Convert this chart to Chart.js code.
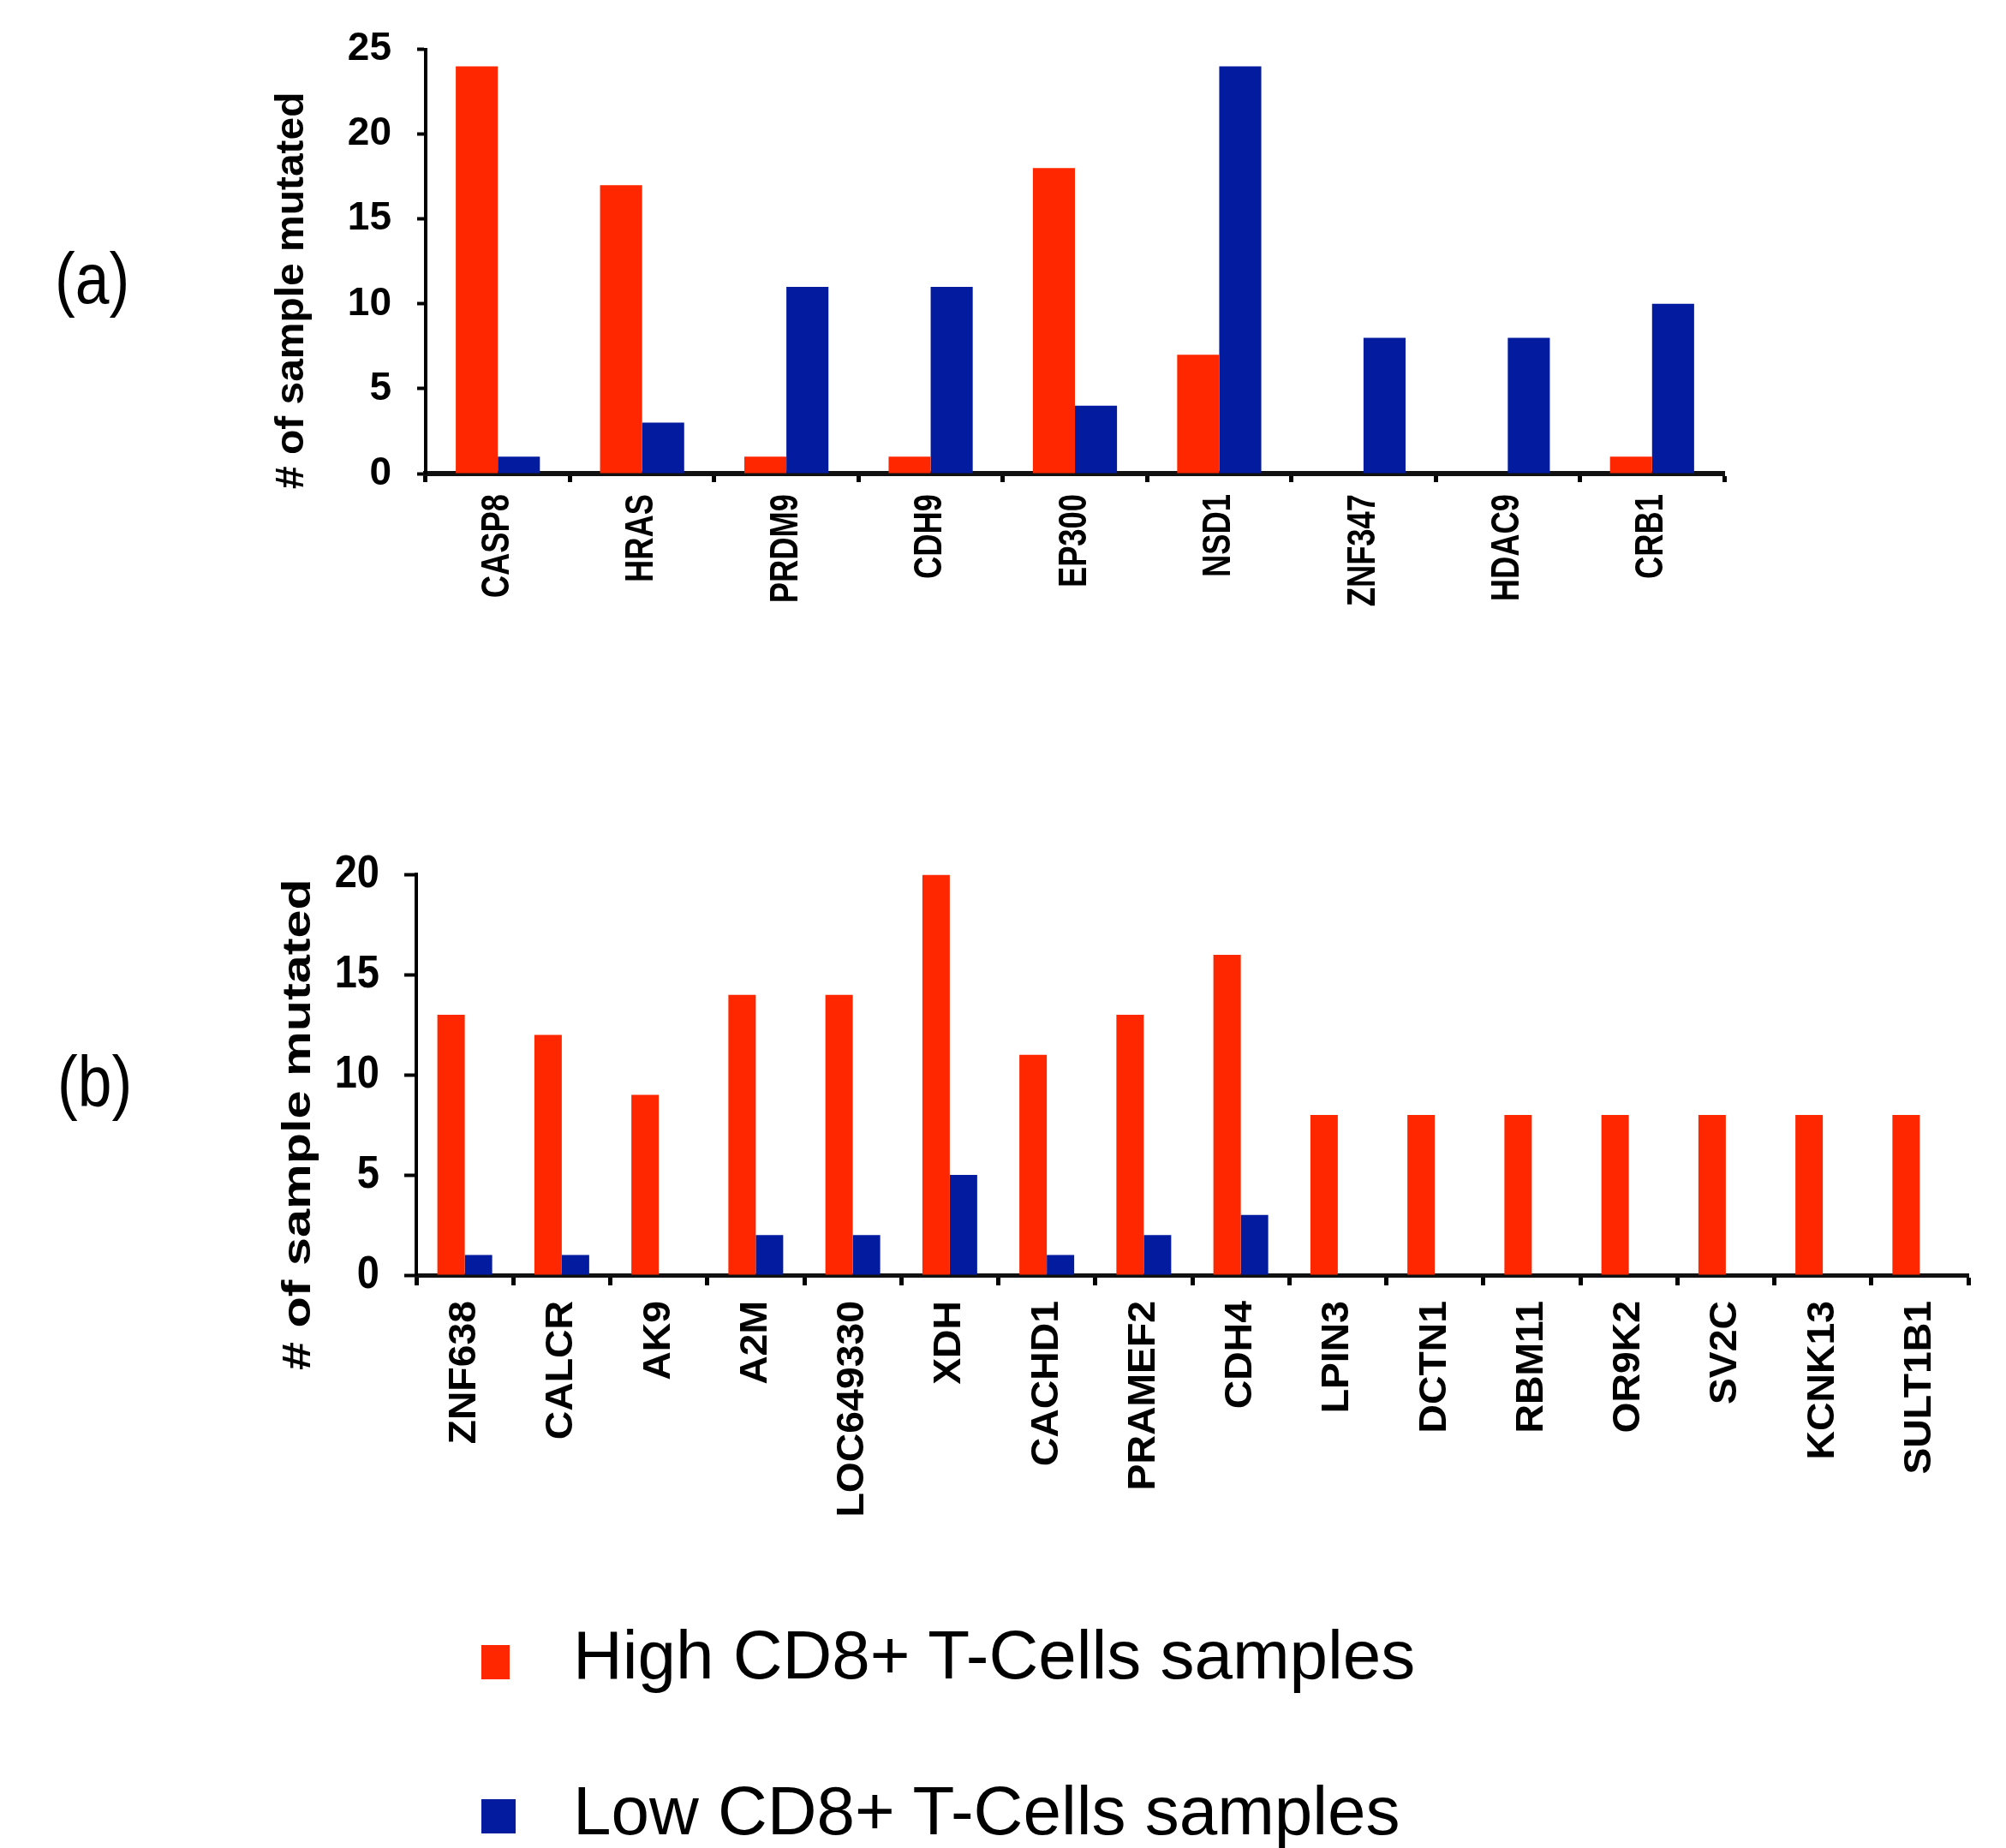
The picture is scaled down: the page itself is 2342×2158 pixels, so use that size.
<!DOCTYPE html>
<html>
<head>
<meta charset="utf-8">
<script src="https://cdn.jsdelivr.net/npm/chart.js@4.4.1/dist/chart.umd.min.js"></script>
<style>
  html, body { margin: 0; padding: 0; background: #fff; }
  body { width: 2342px; height: 2158px; position: relative; overflow: hidden; font-family: 'Liberation Sans', Arial, sans-serif; color: #000; }
  .panel { position: absolute; left: 0; width: 2342px; }
  .tag { position: absolute; font-size: 84px; line-height: 1; transform: scaleX(0.85); transform-origin: 0 0; }
  .key { position: absolute; }
  .keytext { position: absolute; font-size: 80px; line-height: 1; white-space: nowrap; }
</style>
</head>
<body>
<div class="panel" style="top:0;height:800px"><canvas id="chartA"></canvas></div>
<div class="panel" style="top:960px;height:860px"><canvas id="chartB"></canvas></div>
<div class="tag" style="left:64px;top:283px">(a)</div>
<div class="tag" style="left:67px;top:1221px">(b)</div>
<div id="legend"></div>

<script>
const seriesNames = ['High CD8+ T-Cells samples', 'Low CD8+ T-Cells samples'];
const seriesColors = ['#ff2700', '#031b9f'];

// panel (a)
const genesA = ['CASP8', 'HRAS', 'PRDM9', 'CDH9', 'EP300', 'NSD1', 'ZNF347', 'HDAC9', 'CRB1'];
const highA = [24, 17, 1, 1, 18, 7, 0, 0, 1];
const lowA = [1, 3, 11, 11, 4, 24, 8, 8, 10];

// panel (b)
const genesB = ['ZNF638', 'CALCR', 'AK9', 'A2M', 'LOC649330', 'XDH', 'CACHD1', 'PRAMEF2',
  'CDH4', 'LPIN3', 'DCTN1', 'RBM11', 'OR9K2', 'SV2C', 'KCNK13', 'SULT1B1'];
const highB = [13, 12, 9, 14, 14, 20, 11, 13, 16, 8, 8, 8, 8, 8, 8, 8];
const lowB = [1, 1, 0, 2, 2, 5, 1, 2, 3, 0, 0, 0, 0, 0, 0, 0];

const yTitle = '# of sample mutated';
const sans = "'Liberation Sans', Arial, sans-serif";

// the original uses squeezed / stretched type, so scale the text along its run
const stretchText = {
  id: 'stretchText',
  afterLayout(chart, args, opts) {
    const x = chart.scales.x, y = chart.scales.y;
    if (y.__wrapped) return;
    const drawTitle = y.drawTitle, drawY = y.drawLabels, drawX = x.drawLabels;

    y.drawTitle = function () {
      const ctx = this.ctx, cy = (this.top + this.bottom) / 2;
      ctx.save();
      ctx.translate(0, cy + opts.titleDy);
      ctx.scale(1, opts.titleK);
      ctx.translate(0, -cy);
      drawTitle.call(this);
      ctx.restore();
    };
    y.drawLabels = function (area) {
      const o = this.options;
      const ax = this.right - o.grid.tickLength - o.ticks.padding;
      const ctx = this.ctx;
      ctx.save();
      ctx.translate(ax, 0);
      ctx.scale(opts.yTickK, 1);
      ctx.translate(-ax, 0);
      drawY.call(this, area);
      ctx.restore();
    };
    x.drawLabels = function (area) {
      const o = this.options;
      const ay = this.top + o.grid.tickLength + o.ticks.padding;
      const ctx = this.ctx;
      ctx.save();
      ctx.translate(0, ay);
      ctx.scale(1, opts.xTickK);
      ctx.translate(0, -ay);
      drawX.call(this, area);
      ctx.restore();
    };
    y.__wrapped = true;
  }
};

function makeChart(id, labels, high, low, p) {
  return new Chart(document.getElementById(id), {
    type: 'bar',
    data: {
      labels: labels,
      datasets: [
        { label: seriesNames[0], data: high, backgroundColor: seriesColors[0] },
        { label: seriesNames[1], data: low, backgroundColor: seriesColors[1] }
      ]
    },
    options: {
      responsive: true,
      maintainAspectRatio: false,
      devicePixelRatio: 1,
      animation: false,
      categoryPercentage: p.catPct,
      barPercentage: 1.0,
      layout: { padding: { left: 300, top: p.top, right: p.right, bottom: 0 } },
      plugins: {
        legend: { display: false },
        tooltip: { enabled: false },
        stretchText: { titleDy: p.titleDy, titleK: p.titleK, yTickK: p.yTickK, xTickK: p.xTickK }
      },
      scales: {
        x: {
          afterFit: (s) => { s.height = p.xHeight; },
          border: { display: true, color: '#111', width: p.xBorder },
          grid: { offset: true, drawOnChartArea: false, drawTicks: true,
                  tickLength: p.xTick, tickWidth: 5, tickColor: '#000' },
          ticks: { autoSkip: false, maxRotation: 90, minRotation: 90, padding: p.xPad,
                   color: '#000', font: { family: sans, size: p.xSize, weight: 'bold' } }
        },
        y: {
          min: 0,
          max: p.yMax,
          afterFit: (s) => { s.width = p.yWidth; },
          border: { display: true, color: '#000', width: 4 },
          grid: { drawOnChartArea: false, drawTicks: true, tickLength: p.yTick,
                  tickWidth: 4, tickColor: '#000' },
          ticks: { stepSize: 5, padding: p.yPad, color: '#000',
                   font: { family: sans, size: p.ySize, weight: 'bold' } },
          title: { display: true, text: yTitle, color: '#000',
                   font: { family: sans, size: p.titleSize, weight: 'bold', lineHeight: 1 },
                   padding: { top: p.titlePad, bottom: 0 } }
        }
      }
    },
    plugins: [stretchText]
  });
}

makeChart('chartA', genesA, highA, lowA, {
  catPct: 0.583, top: 52, right: 329, xHeight: 247, xBorder: 6, xTick: 10, xPad: 14,
  xSize: 46, xTickK: 0.79,
  yMax: 25, yWidth: 197, yTick: 10, yPad: 30, ySize: 46, yTickK: 1,
  titleSize: 47, titlePad: 18, titleDy: 34, titleK: 1.02
});

makeChart('chartB', genesB, highB, lowB, {
  catPct: 0.565, top: 50, right: 44, xHeight: 331, xBorder: 5, xTick: 12, xPad: 18,
  xSize: 45, xTickK: 1.03,
  yMax: 20, yWidth: 186, yTick: 14, yPad: 29, ySize: 54, yTickK: 0.87,
  titleSize: 46, titlePad: 26, titleDy: 58, titleK: 1.29
});

// legend built from the series names and colours
const legendBoxes = [
  { left: 562, top: 1921, w: 33, h: 40, textTop: 1893 },
  { left: 562, top: 2101, w: 40, h: 40, textTop: 2075 }
];
const legend = document.getElementById('legend');
seriesNames.forEach((name, i) => {
  const b = legendBoxes[i];
  const sq = document.createElement('div');
  sq.className = 'key';
  sq.style.cssText = `left:${b.left}px;top:${b.top}px;width:${b.w}px;height:${b.h}px;background:${seriesColors[i]}`;
  legend.appendChild(sq);
  const t = document.createElement('div');
  t.className = 'keytext';
  t.style.cssText = `left:669px;top:${b.textTop}px`;
  t.textContent = name;
  legend.appendChild(t);
});
</script>
</body>
</html>
